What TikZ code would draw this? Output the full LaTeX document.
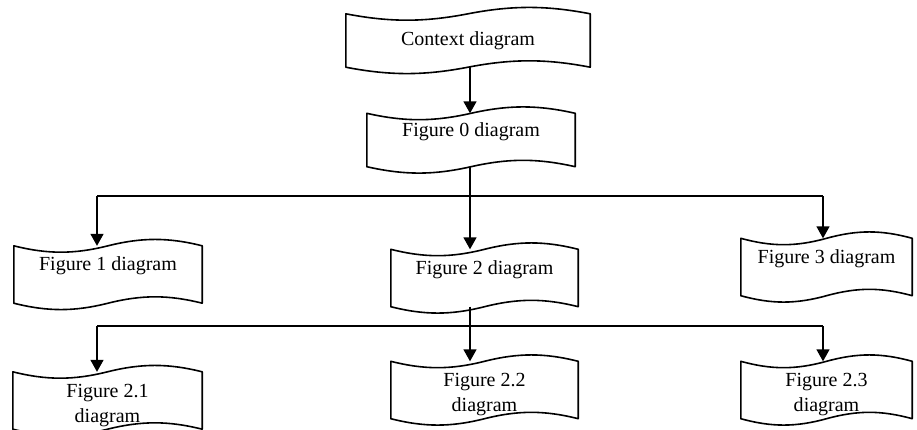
\documentclass[tikz,border=0pt]{standalone}
\usepackage{fontspec}
\setmainfont{Liberation Serif}
\usetikzlibrary{calc,arrows.meta}

\tikzset{
  doc/.style={rectangle, inner sep=0pt, minimum height=57pt,
    font=\fontsize{20}{25}\selectfont, align=center},
  raised/.style={text depth=21pt},
  lowered/.style={text height=48pt},
  tapeline/.style={line width=1.6pt, line join=round},
  flow/.style={line width=1.6pt, -{Triangle[length=12pt,width=13pt]}},
  bus/.style={line width=1.6pt}
}

\begin{document}
\begin{tikzpicture}[x=1pt, y=1pt]
  \useasboundingbox (0,0) rectangle (917,-429);

  % levels of the tree
  \node[doc, minimum width=244pt, minimum height=53pt] (ctx) at (468,-40.5) {Context diagram};
  \node[doc, raised, minimum width=208pt, minimum height=53pt] (fig0) at (471,-140) {Figure 0 diagram};
  \node[doc, raised, minimum width=188pt] (fig1) at (108,-274.5) {Figure 1 diagram};
  \node[doc, raised, minimum width=187pt] (fig2) at (484.5,-278) {Figure 2 diagram};
  \node[doc, raised, minimum width=171pt] (fig3) at (826.5,-267) {Figure 3 diagram};
  \node[doc, lowered, minimum width=189pt] (fig21) at (107.5,-400.5) {Figure 2.1\\diagram};
  \node[doc, lowered, minimum width=187pt] (fig22) at (484.5,-390) {Figure 2.2\\diagram};
  \node[doc, lowered, minimum width=171pt] (fig23) at (826.5,-390) {Figure 2.3\\diagram};

  % wavy document outlines
  \foreach \shp in {ctx,fig0,fig1,fig2,fig3,fig21,fig22,fig23}
    \draw[tapeline] let \p1=(\shp.north west), \p2=(\shp.south east),
        \n1={0.18*(\x2-\x1)}, \n2={(\x1+\x2)/2} in
      (\x1,\y1) .. controls +(\n1,-8.5pt) and +(-\n1,-8.5pt) .. (\n2,\y1)
                .. controls +(\n1,8.5pt) and +(-\n1,8.5pt) .. (\x2,\y1)
      -- (\x2,\y2)
                .. controls +(-\n1,8.5pt) and +(\n1,8.5pt) .. (\n2,\y2)
                .. controls +(-\n1,-8.5pt) and +(\n1,-8.5pt) .. (\x1,\y2)
      -- cycle;

  % columns and bus lines
  \coordinate (lft) at (97,0);
  \coordinate (mid) at (470,0);
  \coordinate (rgt) at (823,0);
  \coordinate (bus1) at (0,-196);
  \coordinate (bus2) at (0,-326);

  \draw[flow] (ctx.south -| mid) -- (fig0.north -| mid);
  \draw[flow] (fig0.south -| mid) -- (fig2.north -| mid);
  \draw[bus] (bus1 -| lft) -- (bus1 -| rgt);
  \draw[flow] (bus1 -| lft) -- (fig1.north -| lft);
  \draw[flow] (bus1 -| rgt) -- (fig3.north -| rgt);

  \draw[flow] (fig2.south -| mid) -- (fig22.north -| mid);
  \draw[bus] (bus2 -| lft) -- (bus2 -| rgt);
  \draw[flow] (bus2 -| lft) -- (fig21.north -| lft);
  \draw[flow] (bus2 -| rgt) -- (fig23.north -| rgt);
\end{tikzpicture}
\end{document}
